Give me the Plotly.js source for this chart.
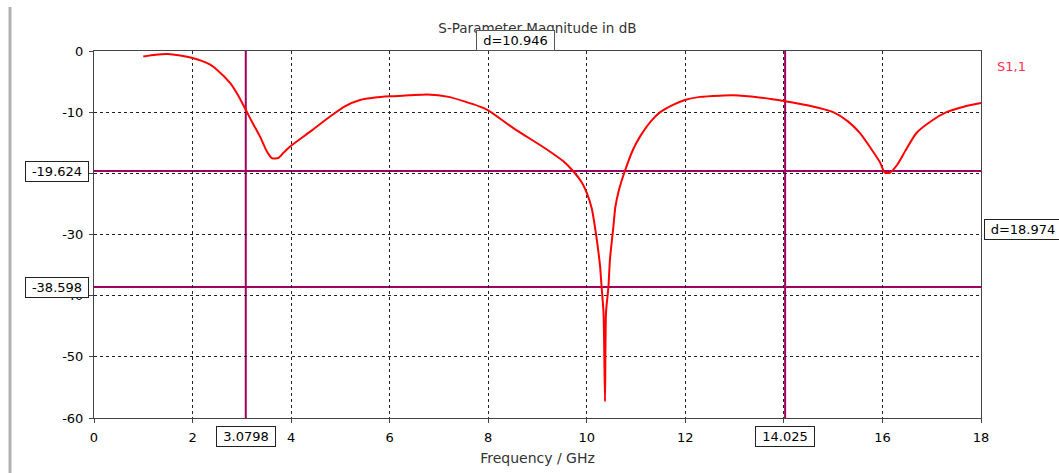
<!DOCTYPE html>
<html>
<head>
<meta charset="utf-8">
<script src="https://cdn.plot.ly/plotly-3.0.1.min.js"></script>
<style>html,body{margin:0;padding:0;background:#fff;}#chart{width:1059px;height:473px;}</style>
</head>
<body>
<div id="chart"></div>
<script>
// Frequency (GHz) and S1,1 magnitude (dB)
var freq = [1.0,1.25,1.5,1.75,2.0,2.2,2.35,2.5,2.76,2.9,3.08,3.2,3.37,3.5,3.61,3.74,3.85,3.98,4.4,4.79,5.1,5.4,5.7,6.0,6.4,6.76,7.2,7.5,7.83,8.0,8.51,9.19,9.52,9.73,9.9,10.0,10.1,10.17,10.27,10.30,10.34,10.37,10.39,10.44,10.47,10.54,10.58,10.65,10.77,10.94,11.08,11.3,11.49,11.75,11.99,12.3,12.7,12.97,13.5,14.02,14.5,15.0,15.3,15.54,15.78,15.95,16.05,16.15,16.3,16.48,16.69,17.0,17.3,17.65,18.0];
var s11 = [-0.9,-0.6,-0.5,-0.75,-1.15,-1.65,-2.2,-3.1,-5.2,-6.9,-9.6,-11.5,-14.0,-16.3,-17.5,-17.5,-16.6,-15.6,-13.1,-10.7,-9.0,-8.0,-7.6,-7.4,-7.25,-7.1,-7.5,-8.2,-9.1,-9.7,-12.6,-16.1,-18.0,-19.7,-21.5,-23.2,-25.7,-29.0,-35.2,-38.5,-42.8,-57.3,-42.8,-38.5,-34.1,-28.7,-25.5,-22.8,-19.7,-16.1,-14.0,-11.5,-10.0,-8.8,-8.0,-7.5,-7.3,-7.25,-7.6,-8.2,-8.9,-10.0,-11.5,-13.4,-16.1,-18.2,-19.9,-19.9,-18.6,-16.1,-13.4,-11.4,-10.0,-9.1,-8.5];
var seriesName = "S1,1";

// Marker positions
var markerX = [3.0798, 14.025];
var markerXLabels = ["3.0798", "14.025"];
var markerY = [-19.624, -38.598];
var markerYLabels = ["-19.624", "-38.598"];
var deltaXLabel = "d=10.946";
var deltaYLabel = "d=18.974";

var xTicks = [0,2,4,6,8,10,12,14,16,18];
var xTickText = ["0","2","4","6","8","10","12","","16","18"];
var yTicks = [0,-10,-20,-30,-40,-50,-60];
var yTickText = ["0","-10","","-30","-40","-50","-60"];

var mcol = "#a0005f";
var fnt = "DejaVu Sans, Verdana, sans-serif";

var shapes = [];
markerX.forEach(function(v){
  shapes.push({type:"line", xref:"x", yref:"y", x0:v, x1:v, y0:-60, y1:0, line:{color:mcol, width:2}, layer:"below"});
});
markerY.forEach(function(v){
  shapes.push({type:"line", xref:"x", yref:"y", x0:0, x1:18, y0:v, y1:v, line:{color:mcol, width:2}, layer:"below"});
});
// left window border
shapes.push({type:"line", xref:"paper", yref:"paper", x0:-0.0947, x1:-0.0947, y0:-0.2, y1:1.12, line:{color:"#b0b0b0", width:3}});

var box = {bgcolor:"#fff", bordercolor:"#222", borderwidth:1, borderpad:1, height:17, showarrow:false, font:{family:fnt, size:13, color:"#000"}};
function ann(o){ return Object.assign({}, box, o); }
var annotations = [];
markerY.forEach(function(v,i){
  annotations.push(ann({xref:"paper", yref:"y", x:-0.0056, y:v, xanchor:"right", yanchor:"middle", width:60, text:markerYLabels[i]}));
});
markerX.forEach(function(v,i){
  annotations.push(ann({xref:"x", yref:"paper", x:v, y:-0.022, xanchor:"center", yanchor:"top", width:56, text:markerXLabels[i]}));
});
annotations.push(ann({xref:"x", yref:"paper", x:(markerX[0]+markerX[1])/2, y:1.0, xanchor:"center", yanchor:"bottom", width:75, text:deltaXLabel, bordercolor:"#555"}));
annotations.push(ann({xref:"paper", yref:"y", x:1.0034, y:(markerY[0]+markerY[1])/2, xanchor:"left", yanchor:"middle", width:74, text:deltaYLabel}));
annotations.push({xref:"paper", yref:"y", x:1.016, y:-2.6, xanchor:"left", yanchor:"middle", text:seriesName, showarrow:false, font:{family:fnt, size:13, color:"#ff3050"}});

var trace = {x:freq, y:s11, type:"scatter", mode:"lines", name:seriesName, line:{color:"#ff0000", width:2, shape:"spline", smoothing:0.6}, showlegend:false};

var layout = {
  width:1059, height:473,
  margin:{l:94, r:78, t:51, b:55},
  paper_bgcolor:"#fff", plot_bgcolor:"#fff",
  title:{text:"S-Parameter Magnitude in dB", x:0.5075, xanchor:"center", y:0.94, yanchor:"middle", font:{family:fnt, size:13.5, color:"#333"}},
  xaxis:{range:[0,18], tickvals:xTicks, ticktext:xTickText, ticks:"outside", ticklen:4, tickcolor:"#444", showline:true, linecolor:"#444", mirror:true, showgrid:true, gridcolor:"#222", griddash:"3px,3px", gridwidth:1, zeroline:false, tickfont:{family:fnt, size:13, color:"#000"}, ticklabelstandoff:3, title:{text:"Frequency / GHz", font:{family:fnt, size:14, color:"#333"}, standoff:9}},
  yaxis:{range:[-60,0], tickvals:yTicks, ticktext:yTickText, ticks:"outside", ticklen:4, tickcolor:"#444", showline:true, linecolor:"#444", mirror:true, showgrid:true, gridcolor:"#222", griddash:"3px,3px", gridwidth:1, zeroline:false, tickfont:{family:fnt, size:13, color:"#000"}, ticklabelstandoff:3},
  shapes:shapes,
  annotations:annotations
};
Plotly.newPlot("chart", [trace], layout, {displayModeBar:false, staticPlot:true});
</script>
</body>
</html>
